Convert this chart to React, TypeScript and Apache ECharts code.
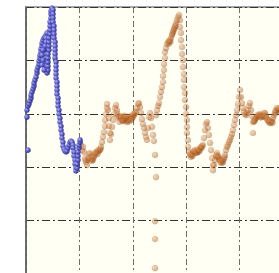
import React, { useEffect, useRef } from "react";
import * as echarts from "echarts";

// Axis ranges (data units)
const xRange = { min: 0, max: 250, step: 50 };
const yRange = { min: 0, max: 100, step: 20 };

// Blue series [time, value]
const blueSeries: number[][] = [
  [1.9, 46.4], [0.9, 58.8], [0.9, 61.4],
  [1.9, 62.9], [2.8, 63.7], [3.7, 64.8], [4.7, 65.9], [4.7, 67.0], [5.6, 68.2], [6.6, 69.3], [7.5, 70.4],
  [7.5, 71.5], [8.4, 72.7], [9.4, 73.8], [10.3, 75.3], [10.3, 76.4], [11.2, 77.5], [12.2, 78.6], [12.2, 79.8],
  [13.1, 80.9], [13.1, 82.0], [14.0, 83.1], [14.0, 84.3], [15.0, 85.4], [15.0, 86.5], [15.9, 87.6], [16.9, 88.4],
  [17.8, 88.8], [18.7, 89.5], [19.7, 90.3],
  [18.7, 88.4], [18.7, 86.9], [17.8, 85.4], [17.8, 83.9], [18.7, 82.4], [18.7, 80.9], [18.7, 79.4], [18.7, 77.9],
  [19.7, 76.4], [19.7, 75.3], [20.6, 76.4], [20.6, 77.9], [20.6, 79.4], [20.6, 80.9], [20.6, 82.4], [21.5, 83.9],
  [21.5, 85.4], [21.5, 86.9], [21.5, 88.4], [22.5, 89.9], [22.5, 91.4], [22.5, 92.9], [22.5, 94.4], [23.4, 95.9],
  [23.4, 97.4], [23.4, 98.5], [24.3, 99.6],
  [15.0, 82.0], [15.9, 80.1], [15.0, 78.3], [16.9, 83.9], [16.9, 76.4], [15.9, 83.9],
  [25.3, 98.9], [25.3, 97.4], [25.3, 95.9], [25.3, 94.4], [26.2, 92.9], [26.2, 91.4], [26.2, 89.9], [26.2, 88.4],
  [27.2, 86.9], [27.2, 85.4], [27.2, 83.9], [27.2, 82.4], [27.2, 80.9], [28.1, 79.4], [28.1, 77.9], [28.1, 76.4],
  [28.1, 74.9], [28.1, 73.4], [29.0, 71.9], [29.0, 70.4], [29.0, 68.9], [29.0, 67.4], [30.0, 65.9], [30.0, 64.4],
  [30.0, 62.9], [30.9, 61.4], [30.9, 59.9], [31.8, 58.4], [31.8, 56.9], [32.8, 55.4], [32.8, 53.9], [33.7, 52.4],
  [33.7, 50.9], [34.6, 49.4], [34.6, 47.9], [35.6, 46.8], [36.5, 46.1], [37.5, 45.7], [38.4, 46.1], [39.3, 47.2],
  [40.3, 48.3], [41.2, 49.4], [42.1, 49.8], [43.1, 49.4], [44.0, 48.3], [44.0, 47.2], [44.9, 45.7], [44.9, 44.2],
  [45.9, 42.7], [45.9, 41.2], [46.8, 39.7], [46.8, 38.6], [47.8, 39.7], [47.8, 41.2], [48.7, 42.7], [48.7, 44.2],
  [48.7, 45.7], [49.6, 47.2], [49.6, 48.3], [50.6, 49.4], [50.6, 50.2],
];

// Orange series [time, value]
const orangeSeries: number[][] = [
  [51.5, 48.3], [52.4, 46.4], [53.4, 47.6], [54.3, 45.7], [55.2, 43.4], [56.2, 41.9], [57.1, 40.8], [58.1, 42.7],
  [59.0, 44.9], [59.9, 45.3], [60.9, 43.8], [61.8, 42.3], [62.7, 42.7], [63.7, 44.2], [64.6, 45.3], [65.5, 45.7],
  [66.5, 45.7], [67.4, 46.4], [68.4, 46.1], [69.3, 46.4], [70.2, 47.6], [71.2, 49.4], [72.1, 51.3], [73.0, 53.2],
  [74.0, 55.4], [74.0, 57.7], [74.9, 59.9], [75.8, 62.2], [75.8, 63.7], [76.8, 61.4], [77.7, 58.4], [77.7, 55.4],
  [78.6, 52.8], [78.6, 50.2], [79.6, 52.4], [80.5, 55.1], [81.5, 57.7], [82.4, 59.9], [83.3, 62.2], [84.3, 63.3],
  [85.2, 61.4], [86.1, 59.2], [87.1, 58.4], [88.0, 58.8], [88.9, 58.4], [89.9, 57.7], [90.8, 58.4], [91.8, 58.8],
  [92.7, 58.0], [93.6, 57.3], [94.6, 56.9], [95.5, 57.7], [96.4, 58.0], [97.4, 58.8], [98.3, 59.2], [99.2, 58.4],
  [100.2, 58.8], [101.1, 59.5], [102.1, 60.3], [103.0, 60.7], [103.9, 62.2], [104.9, 63.7], [105.8, 64.0],
  [106.7, 62.5], [107.7, 60.3], [108.6, 58.0], [109.5, 56.2], [110.5, 54.7], [111.4, 52.8], [112.4, 51.3],
  [113.3, 50.2], [114.2, 54.7], [115.2, 58.8], [116.1, 60.3], [117.0, 58.4], [118.0, 55.1], [118.9, 52.1],
  [119.8, 49.8], [120.8, 44.6], [121.7, 36.3], [120.8, 19.8], [120.8, 13.1], [120.8, 2.2],
  [121.7, 59.5], [122.7, 61.4], [123.6, 62.9], [124.5, 64.0], [125.5, 66.3], [126.4, 68.2], [127.3, 70.0],
  [128.3, 71.9], [128.3, 74.2], [129.2, 76.4], [129.2, 78.6], [130.1, 80.9], [130.1, 83.1], [131.1, 84.6],
  [132.0, 86.1], [133.0, 86.9], [133.9, 87.3], [134.8, 87.6], [135.8, 88.4], [136.7, 89.5], [137.6, 90.6],
  [138.6, 91.8], [139.5, 92.9], [140.4, 94.0], [141.4, 95.1], [142.3, 96.2], [143.3, 97.0],
  [144.2, 95.1], [144.2, 92.5], [145.1, 90.3], [145.1, 87.6], [146.1, 85.0], [146.1, 82.4], [147.0, 80.1],
  [147.0, 77.5], [147.9, 74.9], [147.9, 72.7], [147.9, 70.0], [148.9, 67.8], [148.9, 65.2], [149.8, 62.5],
  [149.8, 59.9], [150.7, 57.7], [150.7, 55.1], [150.7, 52.8], [151.7, 50.2], [151.7, 47.6], [152.6, 45.7],
  [153.6, 44.6], [154.5, 43.8], [155.4, 44.6], [156.4, 45.7], [157.3, 46.1], [158.2, 46.4], [159.2, 45.7],
  [160.1, 45.3], [161.0, 45.7], [162.0, 46.4], [162.9, 47.2], [163.9, 47.6], [164.8, 47.9], [165.7, 48.3],
  [166.7, 50.9], [167.6, 53.9], [168.5, 56.2], [169.5, 56.9], [170.4, 54.7], [171.3, 52.1], [172.3, 49.1],
  [173.2, 46.4], [174.2, 43.4], [175.1, 40.8], [175.1, 38.9], [176.0, 40.8], [177.0, 42.7], [177.9, 44.6],
  [178.8, 45.3], [179.8, 44.2], [180.7, 43.1], [181.6, 42.7], [182.6, 42.3], [183.5, 41.6], [184.5, 41.9],
  [185.4, 43.1], [186.3, 44.6], [187.3, 46.4], [188.2, 47.6], [189.1, 48.3], [190.1, 49.4], [191.0, 50.2],
  [191.9, 51.3], [192.9, 52.4], [193.8, 53.9], [194.8, 55.8], [195.7, 57.7], [196.6, 59.5], [197.6, 61.4],
  [198.5, 63.7], [199.4, 66.3], [200.4, 68.9], [201.3, 66.3], [202.2, 64.0], [203.2, 62.2], [204.1, 60.7],
  [205.1, 59.9], [206.0, 59.5], [206.9, 60.3], [207.9, 61.4], [208.8, 62.9], [209.7, 64.0], [210.7, 61.4],
  [211.6, 59.2], [212.5, 56.9], [212.5, 52.8], [213.5, 57.3], [214.4, 58.0], [215.4, 58.4], [216.3, 58.8],
  [217.2, 59.2], [218.2, 59.5], [219.1, 59.9], [220.0, 59.2], [221.0, 58.8], [221.9, 59.5], [222.8, 60.3],
  [223.8, 60.3], [224.7, 59.2], [225.6, 58.0], [226.6, 57.3], [227.5, 56.9], [228.5, 56.5], [229.4, 56.9],
  [230.3, 57.3], [231.3, 58.4], [232.2, 59.5], [233.1, 60.3], [234.1, 61.4], [235.0, 62.2], [236.0, 61.4],
  [236.9, 61.4], [238.8, 60.7],
  // denser stretches (plateaus)
  [55.7, 42.6], [58.6, 43.5], [61.3, 43.0], [63.2, 43.6], [65.0, 44.8], [67.0, 45.0], [69.8, 46.9],
  [85.5, 60.0], [87.5, 57.0], [89.0, 59.0], [90.3, 57.3], [91.2, 57.5], [92.0, 59.3], [93.0, 58.3],
  [94.0, 58.5], [95.0, 59.0], [96.8, 57.2], [98.8, 57.8], [100.5, 59.9],
  [134.0, 86.3], [135.2, 87.0], [137.0, 90.0], [138.0, 91.0], [139.0, 92.0], [140.0, 93.0],
  [154.0, 45.0], [156.0, 44.2], [158.8, 45.4], [160.6, 46.5], [162.5, 46.0], [164.3, 47.1],
  [178.3, 44.0], [180.2, 43.8], [182.1, 41.8], [184.0, 42.6], [185.9, 43.8],
  [214.0, 57.2], [216.8, 59.6], [219.6, 58.6], [222.3, 59.0], [225.1, 58.6], [228.0, 57.5],
  [230.8, 56.6], [233.6, 61.0], [236.4, 62.0],
];

export default function App() {
  const ref = useRef<HTMLDivElement>(null);
  useEffect(() => {
    if (!ref.current) return;
    const chart = echarts.init(ref.current, null, { renderer: "svg" });
    const blueFill = new echarts.graphic.RadialGradient(0.35, 0.35, 0.7, [
      { offset: 0, color: "#aeb0f0" },
      { offset: 0.55, color: "#575ac6" },
      { offset: 1, color: "#2a2c88" },
    ]);
    const orangeFill = new echarts.graphic.RadialGradient(0.35, 0.35, 0.7, [
      { offset: 0, color: "#e59a64" },
      { offset: 0.6, color: "#b05a18" },
      { offset: 1, color: "#803c0a" },
    ]);
    chart.setOption({
      animation: false,
      backgroundColor: "#ffffff",
      grid: {
        left: 26,
        top: 7,
        width: 267,
        height: 267,
        show: true,
        backgroundColor: "#fffff4",
        borderColor: "#8a8a8a",
        borderWidth: 1.5,
      },
      xAxis: {
        type: "value",
        min: xRange.min,
        max: xRange.max,
        interval: xRange.step,
        axisLine: { show: false },
        axisTick: { show: false },
        axisLabel: { show: false },
        splitLine: {
          show: true,
          lineStyle: { color: "#6e6e6e", width: 1, type: [6, 3, 2, 3] },
        },
      },
      yAxis: {
        type: "value",
        min: yRange.min,
        max: yRange.max,
        interval: yRange.step,
        axisLine: { show: true, onZero: false, lineStyle: { color: "#5a5a5a", width: 1.5 } },
        axisTick: { show: false },
        axisLabel: { show: false },
        splitLine: {
          show: true,
          lineStyle: { color: "#333333", width: 1, type: [8, 3, 2, 3] },
        },
      },
      series: [
        {
          type: "scatter",
          data: orangeSeries,
          symbolSize: 6.5,
          itemStyle: { color: orangeFill, opacity: 0.4 },
          z: 2,
        },
        {
          type: "scatter",
          data: blueSeries,
          symbolSize: 5.5,
          itemStyle: { color: blueFill, opacity: 1 },
          z: 3,
        },
      ],
    });
    return () => chart.dispose();
  }, []);
  return (
    <div
      ref={ref}
      style={{ position: "fixed", left: 0, top: 0, width: 310, height: 300 }}
    />
  );
}
